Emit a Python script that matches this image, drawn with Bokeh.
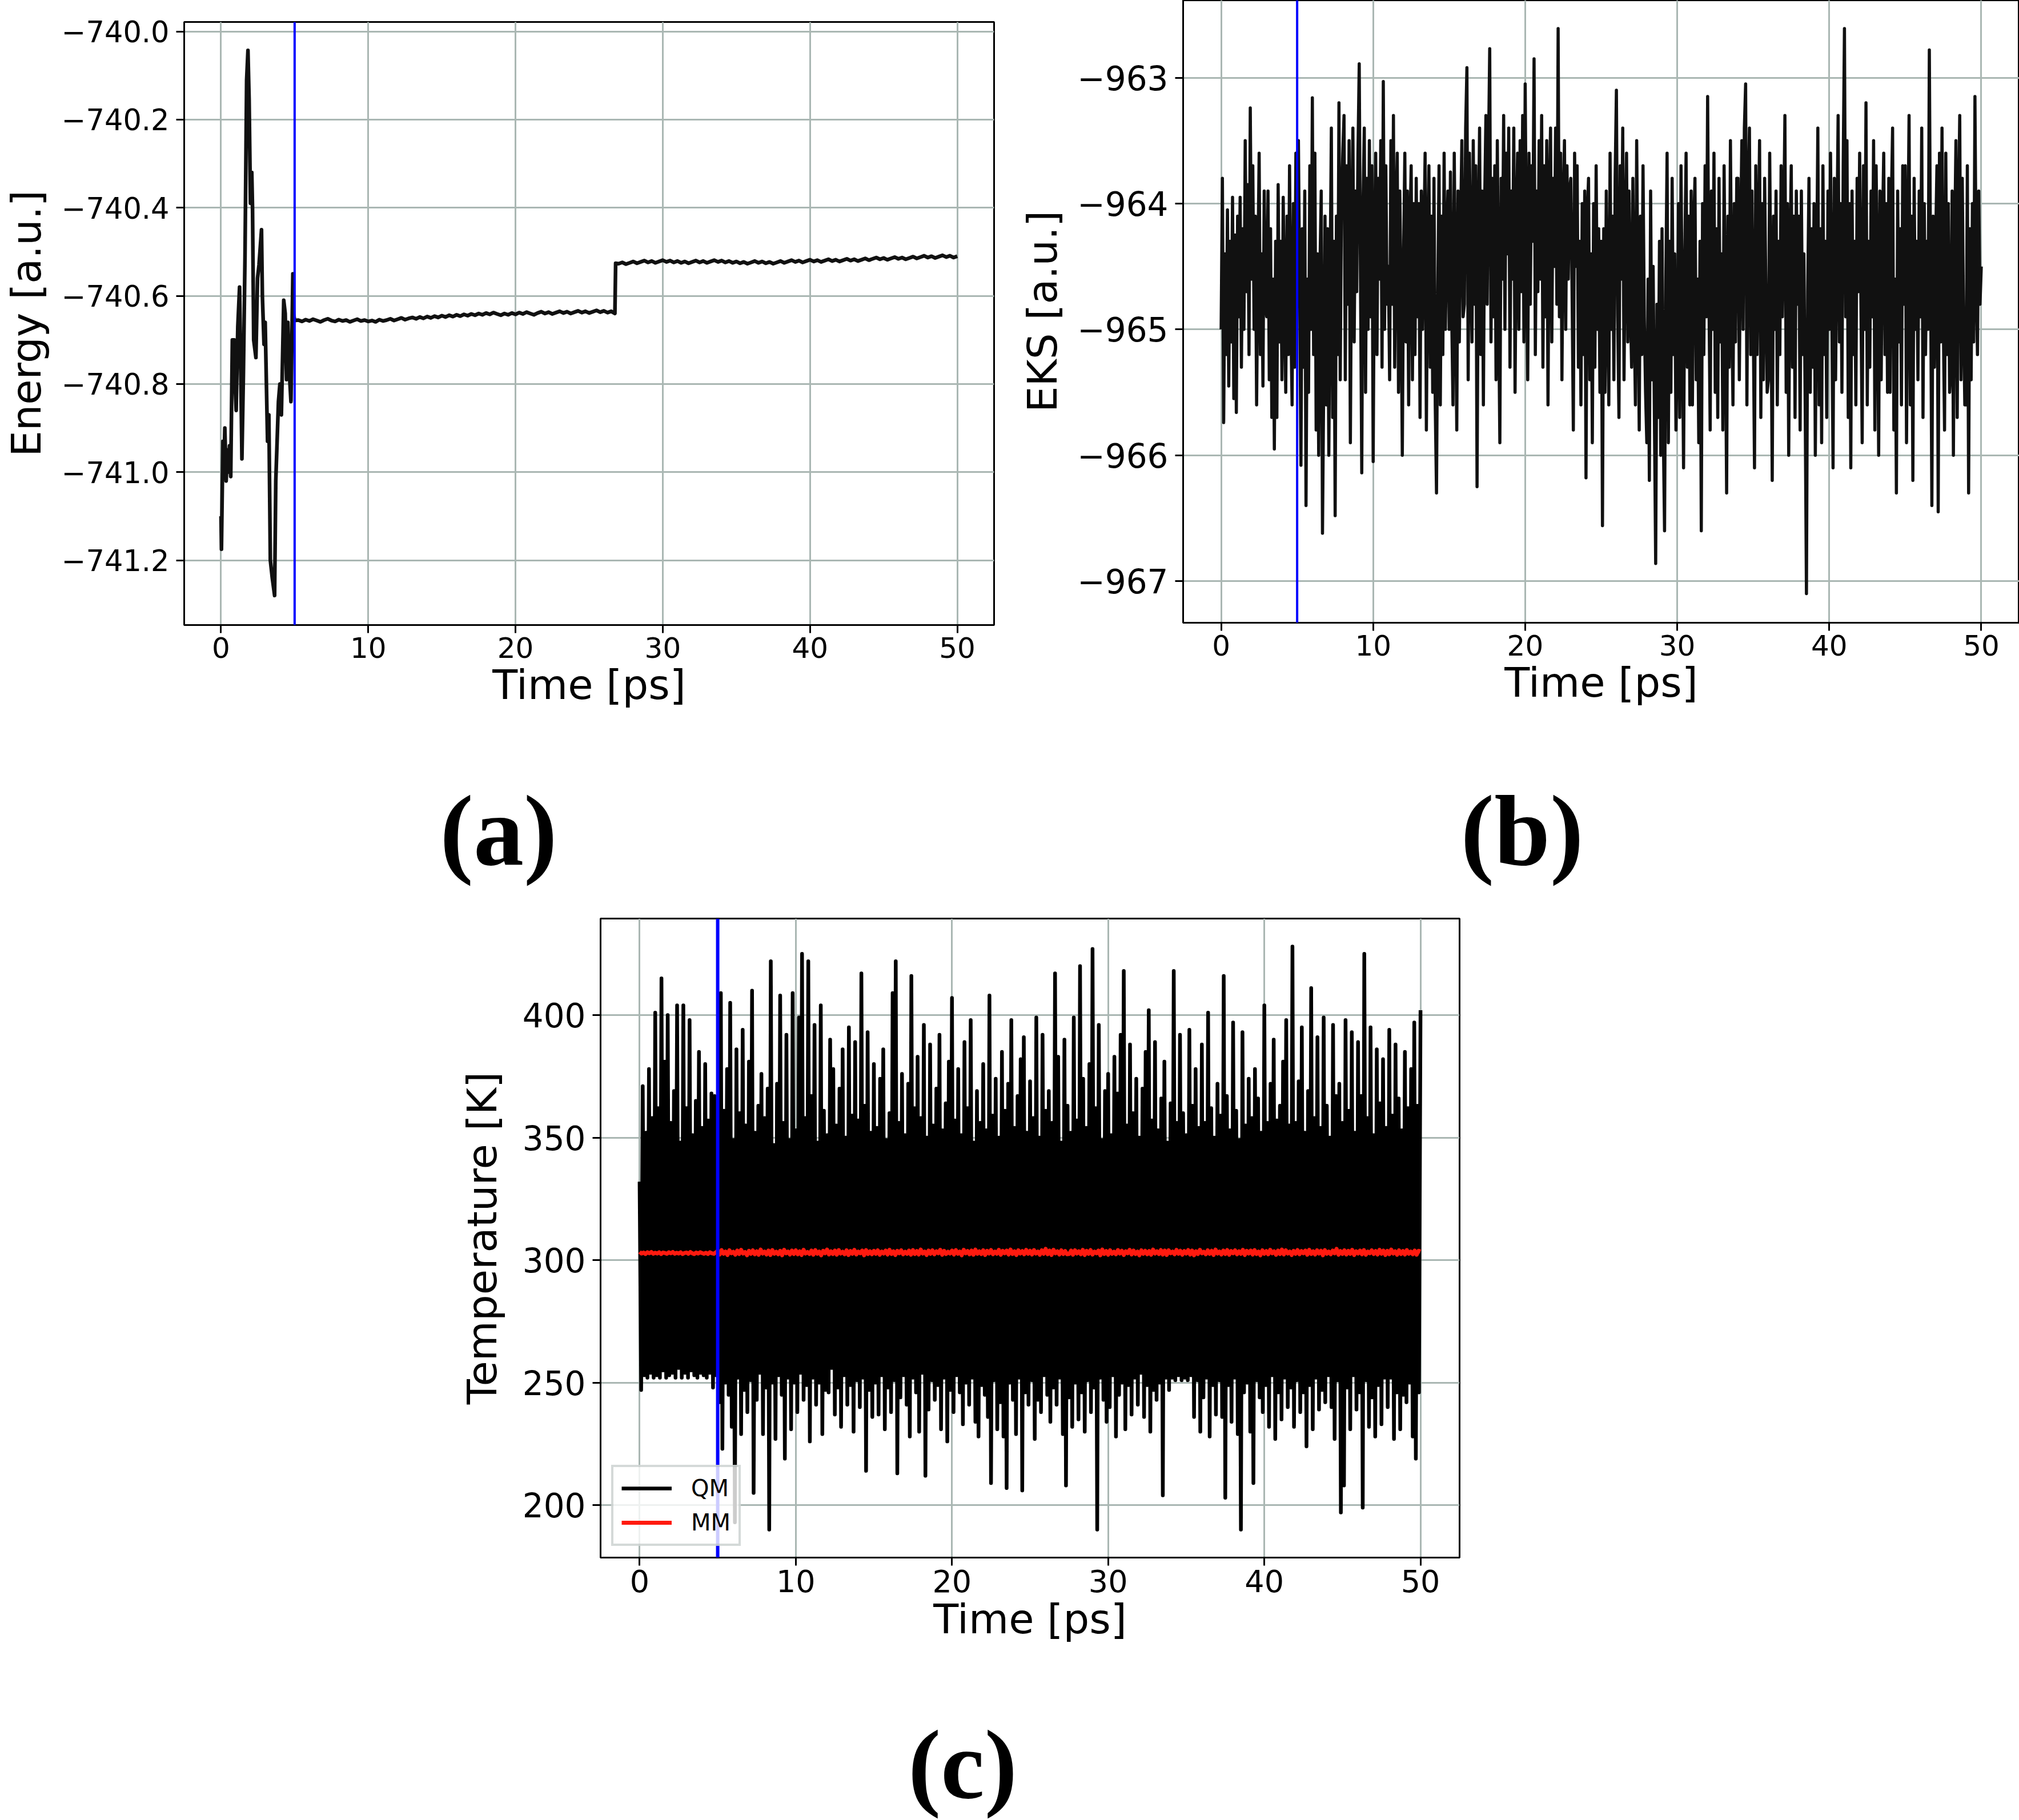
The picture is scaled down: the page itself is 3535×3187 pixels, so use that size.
import numpy as np
from bokeh.plotting import figure
from bokeh.layouts import column, row
from bokeh.models import Span, FixedTicker, CustomJSTickFormatter, Legend, LegendItem, Spacer
from bokeh.core.properties import value
from bokeh.embed import file_html
from bokeh.resources import INLINE

# ---------------- data ----------------
# (a) total energy: equilibration stage (irregular samples) then two plateaus
energy_time_early = [0.0, 0.03, 0.13, 0.19, 0.26, 0.35, 0.43, 0.49, 0.58, 0.66,
                     0.77, 0.90, 0.94, 1.03, 1.14, 1.26, 1.35, 1.42, 1.52, 1.63,
                     1.74, 1.83, 1.91, 2.00, 2.09, 2.14, 2.22, 2.37, 2.48, 2.58,
                     2.75, 2.81, 2.92, 3.00, 3.16, 3.25, 3.35, 3.48, 3.64, 3.72,
                     3.81, 3.90, 4.00, 4.10, 4.26, 4.36, 4.45, 4.54, 4.65, 4.75,
                     4.88, 4.93, 5.00]
energy_early = [-741.10, -741.175, -740.93, -741.00, -740.90, -741.02, -740.95, -741.00, -740.94, -741.01,
                -740.70, -740.70, -740.79, -740.86, -740.67, -740.58, -740.79, -740.97, -740.78, -740.51,
                -740.11, -740.043, -740.156, -740.39, -740.32, -740.40, -740.70, -740.74, -740.56, -740.53,
                -740.45, -740.60, -740.71, -740.66, -740.93, -740.87, -741.20, -741.24, -741.28, -741.02,
                -740.93, -740.84, -740.80, -740.87, -740.61, -740.64, -740.79, -740.66, -740.78, -740.84,
                -740.55, -740.64, -740.656]
# first plateau, every 0.25 ps from 5.25 ps
energy_plateau1 = [
    -740.655, -740.658, -740.654, -740.657, -740.653, -740.656, -740.659, -740.655, -740.652, -740.656,
    -740.658, -740.654, -740.657, -740.655, -740.659, -740.656, -740.653, -740.657, -740.655, -740.658,
    -740.656, -740.659, -740.654, -740.657, -740.655, -740.652, -740.656, -740.653, -740.650, -740.654,
    -740.651, -740.649, -740.652, -740.648, -740.651, -740.647, -740.650, -740.646, -740.649, -740.645,
    -740.648, -740.644, -740.647, -740.643, -740.646, -740.642, -740.645, -740.641, -740.644, -740.640,
    -740.643, -740.639, -740.642, -740.638, -740.641, -740.644, -740.640, -740.643, -740.639, -740.642,
    -740.638, -740.641, -740.637, -740.640, -740.643, -740.639, -740.636, -740.640, -740.637, -740.641,
    -740.638, -740.635, -740.639, -740.636, -740.640, -740.637, -740.634, -740.638, -740.635, -740.639,
    -740.636, -740.633, -740.637, -740.634, -740.638, -740.635, -740.640]
# jump at 26.8 ps, then second plateau every 0.25 ps from 27.0 ps
jump_time = 26.8
jump_energy = -740.526
energy_plateau2 = [
    -740.527, -740.524, -740.528, -740.525, -740.522, -740.526, -740.523, -740.520, -740.524, -740.521,
    -740.525, -740.522, -740.519, -740.523, -740.520, -740.524, -740.521, -740.525, -740.522, -740.526,
    -740.523,
    -740.520, -740.524, -740.521, -740.525, -740.522, -740.519, -740.523, -740.520, -740.524, -740.521,
    -740.525, -740.522, -740.526, -740.523, -740.527, -740.524, -740.521, -740.525, -740.522, -740.526,
    -740.523, -740.527, -740.524, -740.521,
    -740.525, -740.522, -740.519, -740.523, -740.520, -740.524, -740.521, -740.518, -740.522, -740.519,
    -740.523, -740.520, -740.517, -740.521, -740.518, -740.522, -740.519, -740.516, -740.520, -740.517,
    -740.521, -740.518, -740.515, -740.519,
    -740.516, -740.513, -740.517, -740.514, -740.518, -740.515, -740.512, -740.516, -740.513, -740.517,
    -740.514, -740.511, -740.515, -740.512, -740.509, -740.513, -740.510, -740.514, -740.511, -740.508,
    -740.512, -740.509, -740.513, -740.510]

# (b) Kohn-Sham energy, twelve samples per ps
eks_step = 1.0 / 12.0
eks = [
    -965.00, -963.80, -965.74, -964.40, -965.20, -964.05, -965.45, -964.30, -965.10, -963.95, -965.55, -964.25,
    -965.66, -964.10, -964.90, -963.95, -965.30, -964.20, -965.00, -963.50, -964.70, -963.85, -965.20, -963.24,
    -964.60, -963.70, -965.00, -964.10, -965.60, -964.50, -963.60, -965.20, -964.40, -965.45, -963.90, -964.80,
    -964.90, -963.90, -965.40, -964.20, -965.70, -964.60, -965.95, -964.30, -965.70, -963.85, -965.10, -964.30,
    -965.40, -963.95, -964.80, -965.50, -964.10, -965.20, -963.70, -964.90, -965.60, -964.00, -965.30, -963.60,
    -964.80, -963.50, -964.70, -966.08, -964.20, -965.30, -963.90, -966.40, -964.60, -965.50, -963.70, -965.00,
    -963.16, -965.20, -963.60, -965.80, -964.40, -966.00, -964.50, -963.90, -966.62, -965.40, -964.10, -965.60,
    -964.20, -966.00, -964.60, -963.40, -965.70, -964.30, -966.48, -964.10, -965.20, -963.20, -965.40, -964.00,
    -963.60, -963.30, -965.40, -963.70, -964.80, -963.50, -965.90, -964.20, -963.40, -965.10, -963.90, -964.70,
    -963.60, -962.89, -964.60, -966.14, -964.00, -963.40, -965.50, -963.80, -965.00, -963.50, -964.90, -963.70,
    -966.05, -964.30, -963.60, -965.20, -963.80, -964.60, -963.50, -965.30, -963.03, -965.00, -963.70, -964.80,
    -964.50, -965.40, -963.50, -964.80, -963.30, -965.30, -964.10, -963.60, -965.50, -963.90, -964.70, -966.00,
    -964.40, -963.60, -965.10, -963.90, -965.60, -964.20, -963.70, -965.40, -964.00, -965.20, -963.80, -964.90,
    -964.00, -965.70, -963.90, -965.00, -964.30, -963.60, -965.80, -964.40, -963.70, -965.30, -964.10, -965.50,
    -963.80, -965.60, -966.30, -964.70, -963.70, -965.60, -964.10, -965.20, -963.60, -965.00, -964.30, -963.90,
    -965.00, -963.75, -964.90, -965.60, -963.60, -964.70, -965.80, -963.90, -965.10, -964.20, -963.50, -964.90,
    -964.80, -963.40, -962.92, -965.40, -963.60, -964.50, -965.10, -963.50, -964.80, -963.70, -966.25, -964.30,
    -963.40, -965.20, -963.90, -965.60, -964.00, -963.30, -964.80, -963.60, -962.77, -965.10, -963.80, -964.90,
    -963.70, -965.40, -963.50, -964.80, -965.90, -963.80, -964.60, -963.30, -965.00, -963.60, -964.40, -963.40,
    -965.30, -963.90, -964.60, -963.40, -965.50, -964.20, -963.60, -965.00, -963.50, -964.70, -963.30, -965.10,
    -963.05, -964.50, -965.40, -963.60, -964.80, -963.70, -964.30, -962.85, -965.20, -963.90, -964.70, -963.50,
    -964.60, -963.30, -965.30, -963.70, -964.90, -963.50, -965.60, -964.00, -963.40, -965.10, -963.80, -964.50,
    -963.40, -964.80, -962.61, -964.90, -963.60, -965.40, -964.10, -963.50, -965.00, -963.70, -964.60, -963.90,
    -963.80, -964.70, -965.80, -963.60, -964.50, -963.70, -965.30, -964.30, -965.60, -964.00, -965.20, -963.90,
    -966.18, -964.10, -963.80, -965.40, -964.40, -965.90, -964.00, -965.30, -963.70, -965.00, -964.20, -965.50,
    -964.30, -966.56, -964.20, -965.50, -963.90, -964.80, -965.60, -963.60, -965.00, -964.10, -965.40, -963.80,
    -963.10, -964.90, -965.70, -963.70, -964.60, -963.40, -965.40, -964.30, -963.60, -965.10, -963.90, -964.80,
    -965.30, -963.80, -964.90, -965.60, -963.50, -964.70, -965.80, -964.10, -965.20, -963.70, -964.90, -965.50,
    -965.90, -964.60, -966.20, -963.90, -965.40, -964.50, -965.70, -966.86, -964.80, -965.70, -964.30, -966.00,
    -964.20, -965.80, -966.60, -964.60, -963.60, -965.90, -964.30, -965.50, -963.80, -965.20, -964.40, -965.80,
    -965.20, -964.00, -965.70, -963.70, -964.90, -966.10, -964.40, -963.60, -965.30, -964.10, -965.60, -963.90,
    -965.60, -964.20, -963.80, -965.40, -964.60, -965.90, -964.30, -966.60, -964.00, -965.20, -963.70, -964.90,
    -963.15, -964.70, -965.80, -963.90, -965.00, -963.60, -965.50, -964.20, -965.70, -963.80, -965.10, -964.40,
    -965.80, -963.70, -964.90, -966.30, -964.10, -965.30, -963.50, -964.80, -965.60, -964.00, -965.10, -963.80,
    -963.80, -965.40, -964.30, -963.50, -965.00, -963.40, -963.05, -965.60, -964.00, -963.40, -965.20, -963.90,
    -964.90, -966.10, -963.70, -965.20, -964.30, -963.50, -965.70, -964.00, -965.40, -963.80, -964.70, -965.50,
    -965.40, -963.60, -964.80, -966.20, -964.10, -965.00, -963.90, -965.60, -964.30, -965.20, -963.70, -964.90,
    -964.20, -963.30, -965.50, -964.00, -966.00, -964.40, -963.70, -965.30, -964.10, -965.70, -963.90, -964.80,
    -964.10, -965.80, -963.90, -965.20, -964.40, -965.60, -967.10, -964.70, -963.80, -965.50, -964.20, -965.30,
    -964.00, -966.00, -964.60, -963.40, -965.60, -964.20, -965.90, -963.70, -965.20, -964.30, -965.70, -963.90,
    -965.00, -963.60, -964.80, -966.10, -963.80, -965.40, -964.30, -963.30, -965.10, -964.00, -965.50, -963.70,
    -962.61, -964.90, -963.50, -965.70, -964.00, -966.10, -963.90, -965.20, -964.30, -965.60, -963.80, -964.70,
    -963.60, -964.80, -965.90, -963.70, -965.00, -963.20, -965.60, -964.30, -965.30, -963.90, -964.90, -963.50,
    -965.80, -963.70, -964.60, -966.00, -963.90, -965.40, -964.20, -963.60, -965.20, -964.00, -965.50, -963.80,
    -965.50, -964.00, -963.40, -965.80, -964.60, -966.30, -963.90, -965.10, -964.20, -965.60, -963.70, -964.80,
    -963.70, -965.90, -964.40, -963.30, -965.60, -964.10, -966.20, -963.80, -965.00, -964.30, -965.40, -963.90,
    -964.90, -963.40, -965.70, -964.00, -965.20, -964.30, -965.00, -962.78, -964.60, -966.40, -964.10, -965.30,
    -964.30, -963.70, -966.45, -963.60, -965.10, -963.40, -964.90, -965.80, -963.60, -965.20, -964.00, -965.50,
    -965.30, -963.90, -966.00, -964.30, -963.50, -965.70, -964.10, -963.30, -965.40, -963.80, -964.90, -965.60,
    -965.60, -963.70, -966.30, -964.20, -965.40, -964.00, -965.10, -963.15, -964.60, -965.20, -963.90, -964.80,
    -964.50]

# (c) temperatures: QM region every 0.1 ps, MM region every 0.125 ps
qm_step = 0.1
temp_qm = [
    332, 247, 371, 253, 352, 252, 378, 254, 358, 252,
    401, 253, 362, 252, 415, 255, 381, 252, 400, 253,
    356, 254, 369, 252, 404, 256, 348, 252, 404, 254,
    362, 252, 398, 255, 351, 253, 365, 252, 385, 254,
    354, 253, 380, 252, 357, 254, 368, 248, 367, 253,
    352, 242, 409, 223, 361, 250, 378, 245, 405, 232,
    349, 193, 386, 252, 360, 229, 394, 247, 355, 238,
    381, 251, 410, 205, 352, 243, 363, 254, 376, 229,
    358, 248, 370, 190, 422, 250, 347, 227, 372, 253,
    408, 245, 356, 219, 392, 252, 349, 231, 409, 250,
    353, 238, 399, 254, 425, 243, 358, 249, 422, 226,
    367, 252, 396, 241, 348, 250, 404, 229, 361, 247,
    351, 246, 390, 256, 378, 237, 355, 248, 370, 232,
    386, 253, 350, 241, 395, 249, 359, 230, 389, 251,
    357, 240, 417, 252, 363, 214, 393, 247, 352, 236,
    380, 250, 354, 237, 374, 253, 386, 231, 349, 248,
    360, 238, 409, 251, 422, 213, 356, 244, 376, 253,
    351, 241, 372, 228, 416, 252, 362, 246, 383, 230,
    358, 254, 396, 212, 350, 239, 388, 251, 355, 243,
    370, 249, 392, 231, 353, 252, 364, 226, 381, 247,
    407, 238, 357, 253, 378, 246, 351, 233, 389, 250,
    362, 241, 398, 252, 348, 234, 369, 228, 356, 249,
    380, 245, 353, 236, 408, 209, 359, 251, 374, 231,
    350, 242, 385, 228, 361, 207, 372, 250, 398, 243,
    354, 229, 367, 252, 382, 206, 391, 246, 352, 241,
    373, 251, 358, 227, 399, 243, 350, 238, 392, 253,
    361, 245, 369, 234, 356, 248, 417, 241, 383, 252,
    348, 229, 390, 208, 363, 244, 352, 232, 399, 250,
    357, 235, 420, 246, 374, 230, 354, 251, 380, 238,
    427, 248, 362, 190, 396, 252, 349, 243, 369, 234,
    376, 240, 351, 253, 383, 228, 368, 245, 392, 250,
    418, 231, 355, 249, 388, 237, 360, 252, 374, 241,
    350, 254, 370, 236, 385, 249, 402, 230, 357, 247,
    389, 243, 353, 250, 366, 204, 381, 252, 348, 247,
    364, 252, 418, 251, 356, 253, 392, 251, 360, 252,
    351, 251, 394, 253, 363, 236, 378, 251, 354, 230,
    388, 244, 356, 252, 401, 228, 362, 249, 350, 237,
    372, 251, 359, 236, 416, 203, 367, 249, 353, 234,
    397, 252, 361, 229, 349, 190, 393, 246, 355, 250,
    374, 230, 358, 209, 378, 251, 366, 244, 352, 238,
    404, 249, 356, 232, 372, 253, 390, 227, 357, 246,
    363, 235, 381, 252, 398, 240, 355, 248, 428, 232,
    356, 251, 373, 238, 395, 246, 352, 224, 369, 249,
    411, 231, 358, 252, 391, 239, 354, 247, 399, 242,
    363, 253, 350, 240, 396, 227, 367, 251, 372, 197,
    356, 208, 398, 248, 361, 231, 393, 253, 352, 239,
    389, 246, 367, 199, 425, 251, 358, 232, 395, 244,
    351, 228, 386, 249, 364, 233, 382, 252, 354, 240,
    394, 252, 359, 227, 388, 246, 366, 231, 353, 245,
    385, 242, 362, 250, 378, 228, 397, 219, 363, 246,
    402]
mm_step = 0.125
temp_mm = [
    303.4, 302.7, 303.1, 302.5, 303.2, 302.8, 303.3, 302.6, 303.0, 302.7,
    303.2, 302.5, 303.1, 302.9, 302.6, 303.2, 302.8, 303.3, 302.6, 303.0,
    302.7, 303.2, 302.5, 302.9, 303.1, 302.6, 303.3, 302.8, 302.5, 303.1,
    302.7, 303.2, 302.9, 302.6, 303.0, 302.5, 303.2, 302.8, 302.6, 303.1,
    303.8, 302.3, 304.1, 302.6, 303.5, 302.1, 304.0, 302.8, 303.4, 302.2,
    303.9, 302.5, 304.2, 302.7, 303.3, 302.0, 303.8, 302.6, 304.0, 302.4,
    303.6, 302.2, 304.3, 302.7, 303.5, 302.3, 303.9, 302.1, 304.1, 302.6,
    303.4, 302.4, 303.8, 302.0, 304.2, 302.8, 303.5, 302.3, 303.9, 302.5,
    304.0, 302.4, 303.6, 302.1, 304.2, 302.7, 303.3, 302.5, 303.9, 302.2,
    304.1, 302.6, 303.5, 302.0, 303.8, 302.8, 304.3, 302.3, 303.6, 302.5,
    303.9, 302.2, 304.1, 302.7, 303.4, 302.4, 304.0, 302.1, 303.7, 302.6,
    304.2, 302.3, 303.5, 302.8, 303.9, 302.0, 304.1, 302.5, 303.6, 302.4,
    303.8, 302.6, 304.0, 302.2, 303.5, 302.7, 303.9, 302.3, 304.2, 302.5,
    303.6, 302.1, 303.8, 302.8, 304.0, 302.4, 303.4, 302.6, 303.9, 302.2,
    304.1, 302.5, 303.7, 302.3, 304.3, 302.7, 303.5, 302.1, 303.9, 302.6,
    304.0, 302.4, 303.6, 302.8, 304.2, 302.2, 303.8, 302.5, 303.4, 302.7,
    303.9, 302.3, 304.1, 302.6, 303.5, 302.0, 304.2, 302.8, 303.7, 302.4,
    303.9, 302.2, 304.3, 302.6, 303.6, 302.5, 304.0, 302.1, 303.8, 302.7,
    304.1, 302.4, 303.5, 302.6, 304.2, 302.2, 303.8, 302.8, 303.9, 302.3,
    304.3, 302.5, 303.6, 302.1, 304.0, 302.7, 303.7, 302.4, 304.2, 302.6,
    303.8, 302.3, 304.1, 302.7, 303.5, 302.2, 304.0, 302.6, 304.6, 302.4,
    303.9, 302.1, 304.2, 302.8, 303.6, 302.3, 304.0, 302.5, 303.7, 302.4,
    302.5, 303.9, 302.2, 304.0, 302.7, 303.6, 302.4, 304.2, 302.1, 303.8,
    302.6, 304.1, 302.3, 303.5, 302.8, 303.9, 302.0, 304.3, 302.5, 303.7,
    302.2, 304.0, 302.6, 303.4, 302.4, 304.1, 302.7, 303.8, 302.1, 303.6,
    302.8, 304.2, 302.3, 303.9, 302.5, 303.5, 302.0, 304.0, 302.6, 303.8,
    302.4, 303.7, 302.2, 304.3, 302.7, 303.6, 302.5, 304.1, 302.3, 303.9,
    302.1, 304.0, 302.8, 303.5, 302.4, 304.2, 302.6, 303.8, 302.2, 303.7,
    302.7, 304.1, 302.3, 303.9, 302.0, 303.6, 302.5, 304.2, 302.8, 303.4,
    302.4, 304.0, 302.6, 303.8, 302.1, 304.3, 302.7, 303.5, 302.3, 303.9,
    302.5, 304.1, 302.2, 303.7, 302.8, 304.0, 302.4, 303.6, 302.6, 304.2,
    302.1, 303.8, 302.7, 303.9, 302.3, 304.1, 302.5, 303.5, 302.0, 304.0,
    302.6, 303.7, 302.4, 304.2, 302.8, 303.6, 302.2, 303.9, 302.5, 304.3,
    302.3, 304.0, 302.7, 303.5, 302.1, 303.8, 302.6, 304.1, 302.4, 303.7,
    302.8, 303.9, 302.2, 304.2, 302.5, 303.6, 302.3, 304.0, 302.7, 303.8,
    302.0, 304.1, 302.6, 303.5, 302.4, 303.9, 302.8, 304.6, 302.2, 303.7,
    302.5, 304.0, 302.3, 303.8, 302.6, 304.2, 302.1, 303.6, 302.7, 303.9,
    302.4, 304.1, 302.2, 303.5, 302.8, 304.0, 302.5, 303.7, 302.3, 304.2,
    302.6, 303.9, 302.1, 303.8, 302.4, 304.3, 302.7, 303.6, 302.2, 304.0,
    302.5, 303.7, 302.3, 304.1, 302.6, 303.5, 302.4, 303.9, 302.2, 303.8,
    303.5]

equilibration_end = 5.0   # ps, marked with a vertical line
time_ticks = [0, 10, 20, 30, 40, 50]
energy_ticks = [-741.2, -741.0, -740.8, -740.6, -740.4, -740.2, -740.0]
eks_ticks = [-967, -966, -965, -964, -963]
temp_ticks = [200, 250, 300, 350, 400]

# ---------------- styling helpers ----------------
FONT = "DejaVu Sans"
GRID = "#aab7b3"


def minus_formatter(digits):
    return CustomJSTickFormatter(
        args=dict(d=digits),
        code="""
        const s = Math.abs(tick).toFixed(d);
        return (tick < 0 ? "\\u2212" : "") + s;
        """)


def style(p, xticks, yticks, ydigits, xtick_px, ytick_px, ylabel_standoff):
    p.background_fill_color = "white"
    p.border_fill_color = "white"
    p.outline_line_color = "black"
    p.outline_line_width = 3
    p.xaxis.ticker = FixedTicker(ticks=xticks)
    p.yaxis.ticker = FixedTicker(ticks=yticks)
    p.xaxis.formatter = minus_formatter(0)
    p.yaxis.formatter = minus_formatter(ydigits)
    for ax in (p.xaxis[0], p.yaxis[0]):
        ax.axis_line_color = "black"
        ax.axis_line_width = 3
        ax.major_tick_line_color = "black"
        ax.major_tick_line_width = 3
        ax.major_tick_out = 14
        ax.major_tick_in = 0
        ax.minor_tick_line_color = None
        ax.major_label_text_font = FONT
        ax.major_label_text_color = "black"
        ax.axis_label_text_font = FONT
        ax.axis_label_text_font_style = "normal"
        ax.axis_label_text_font_size = "72px"
        ax.axis_label_text_color = "black"
    p.xaxis.major_label_text_font_size = f"{xtick_px}px"
    p.yaxis.major_label_text_font_size = f"{ytick_px}px"
    p.xaxis.major_label_standoff = 7
    p.yaxis.major_label_standoff = 12
    p.xaxis.axis_label_standoff = 2
    p.yaxis.axis_label_standoff = ylabel_standoff
    p.xaxis.axis_label = "Time [ps]"
    for g in (p.xgrid[0], p.ygrid[0]):
        g.grid_line_color = GRID
        g.grid_line_width = 3


def tag_figure(text, width, height, left, right, x, y, size):
    """Blank strip carrying a bold panel tag; x from its frame's left, y from its top."""
    t = figure(width=width, height=height, x_range=(0, width - left - right), y_range=(height, 0),
               output_backend="svg", toolbar_location=None,
               x_axis_location=None, y_axis_location=None,
               min_border_left=left, min_border_right=right, min_border_top=0, min_border_bottom=0)
    t.outline_line_color = None
    t.grid.visible = False
    t.background_fill_color = "white"
    t.border_fill_color = "white"
    t.text(x=[x], y=[y], text=[text], text_align="center", text_baseline="middle",
           text_font=value("Liberation Serif"), text_font_style="bold",
           text_font_size=f"{size}px", text_color="black")
    return t


def eq_line(p, width):
    p.add_layout(Span(location=equilibration_end, dimension="height",
                      line_color="#0000ff", line_width=width))


# ---------------- (a) energy ----------------
t_plateau1 = 5.25 + 0.25 * np.arange(len(energy_plateau1))
t_plateau2 = 27.0 + 0.25 * np.arange(len(energy_plateau2))
t_energy = np.concatenate([energy_time_early, t_plateau1, [jump_time], t_plateau2])
e_energy = np.concatenate([energy_early, energy_plateau1, [jump_energy], energy_plateau2])

pa = figure(width=1780, height=1294, x_range=(-2.5, 52.5), y_range=(-741.3471, -739.9784),
            output_backend="svg", toolbar_location=None,
            min_border_left=318, min_border_right=40, min_border_top=38, min_border_bottom=200)
style(pa, time_ticks, energy_ticks, 1, 50, 51, 17)
pa.yaxis.axis_label = "Energy [a.u.]"
pa.line(t_energy, e_energy, line_color="#111111", line_width=6.5, line_join="round")
eq_line(pa, 4)
tag_a = tag_figure("(a)", 1780, 306, 318, 40, 552, 160, 176)

# ---------------- (b) EKS ----------------
t_eks = eks_step * np.arange(len(eks))
pb = figure(width=1755, height=1290, x_range=(-2.5, 52.5), y_range=(-967.331, -962.385),
            output_backend="svg", toolbar_location=None,
            min_border_left=290, min_border_right=0, min_border_top=0, min_border_bottom=200)
style(pb, time_ticks, eks_ticks, 0, 50, 58, 16)
pb.yaxis.axis_label = "EKS [a.u.]"
pb.line(t_eks, eks, line_color="#111111", line_width=5.5, line_join="round")
eq_line(pb, 4)
tag_b = tag_figure("(b)", 1755, 310, 290, 0, 594, 164, 176)

# ---------------- (c) temperature ----------------
t_qm = qm_step * np.arange(len(temp_qm))
t_mm = mm_step * np.arange(len(temp_mm))
pc = figure(width=1895, height=1327, x_range=(-2.5, 52.5), y_range=(178.6, 439.4),
            output_backend="svg", toolbar_location=None,
            min_border_left=271, min_border_right=120, min_border_top=8, min_border_bottom=200)
style(pc, time_ticks, temp_ticks, 0, 54, 58, 26)
pc.yaxis.axis_label = "Temperature [K]"
r_qm = pc.line(t_qm, temp_qm, line_color="black", line_width=6.5, line_join="round")
r_mm = pc.line(t_mm, temp_mm, line_color="#ff1a0f", line_width=7, line_join="round")
eq_line(pc, 6)
legend = Legend(items=[LegendItem(label="QM", renderers=[r_qm]),
                       LegendItem(label="MM", renderers=[r_mm])],
                location=(19, 20), orientation="vertical",
                label_text_font=FONT, label_text_font_size="40px", label_text_color="black",
                glyph_width=88, glyph_height=44, label_standoff=34,
                padding=14, spacing=14, margin=0,
                border_line_color="#aab3b1", border_line_width=4,
                background_fill_color="white", background_fill_alpha=0.8)
pc.add_layout(legend)
tag_c = tag_figure("(c)", 1895, 260, 271, 120, 634, 162, 172)

top = row(column(pa, tag_a), column(pb, tag_b))
bottom = row(Spacer(width=780, height=1587), column(pc, tag_c))
layout = column(top, bottom)
open("out.html", "w").write(file_html(layout, INLINE))
